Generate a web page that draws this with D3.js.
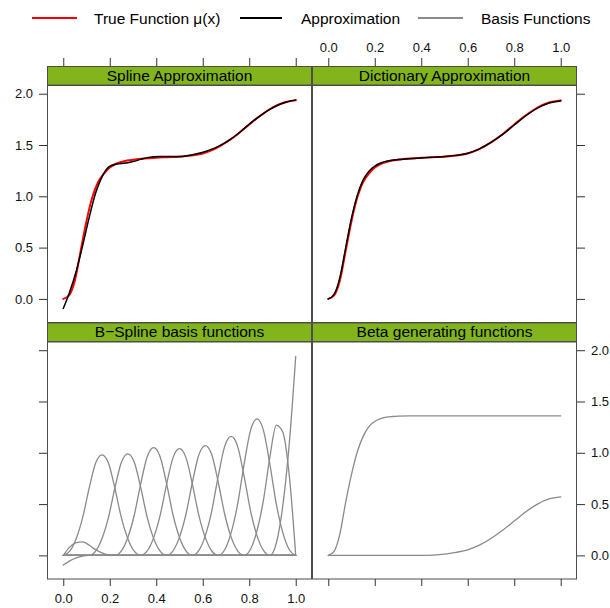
<!DOCTYPE html>
<html><head><meta charset="utf-8">
<script src="https://cdn.jsdelivr.net/npm/d3@7"></script>
<style>body{margin:0;background:#fff}</style>
</head><body>
<svg id="c" width="610" height="608"></svg>
<script>
// ---------- data ----------
const fnX = [0,0.025,0.05,0.075,0.1,0.125,0.15,0.175,0.2,0.225,0.25,0.275,0.3,0.35,0.4,0.45,0.5,0.55,0.6,0.65,0.7,0.75,0.8,0.85,0.9,0.95,1.0];
const trueFn = [0,0.035,0.18,0.47,0.76,0.99,1.14,1.22,1.28,1.315,1.335,1.348,1.356,1.368,1.376,1.381,1.386,1.397,1.418,1.46,1.525,1.605,1.70,1.79,1.865,1.915,1.935];
const dictApprox = [0,0.045,0.21,0.50,0.79,1.01,1.16,1.245,1.295,1.325,1.342,1.352,1.358,1.367,1.374,1.38,1.387,1.399,1.42,1.462,1.525,1.603,1.695,1.785,1.86,1.91,1.93];
const betaA = [0,0.04,0.21,0.52,0.79,1.01,1.16,1.255,1.305,1.333,1.347,1.354,1.358,1.36,1.36,1.36,1.36,1.36,1.36,1.36,1.36,1.36,1.36,1.36,1.36,1.36,1.36];
const betaB = [0,0,0,0,0,0,0,0,0,0,0,0,0,0,0,0.003,0.012,0.03,0.055,0.10,0.165,0.245,0.335,0.425,0.50,0.55,0.57];

// spline grid: 37 sample points on [0,1]
const splineX = d3.range(37).map(k => k / 36);
const splineApprox = [-0.094,0.069,0.27,0.52,0.79,1.03,1.19,1.285,1.31,1.319,1.328,1.342,1.36,1.377,1.385,1.388,1.388,1.387,1.388,1.394,1.405,1.419,1.437,1.4595,1.487,1.520,1.560,1.607,1.66,1.714,1.763,1.807,1.8465,1.880,1.9066,1.927,1.94];

const bs0  = [-0.094,-0.053,-0.024,-0.006,0,0,0,0,0,0,0,0,0,0,0,0,0,0,0,0,0,0,0,0,0,0,0,0,0,0,0,0,0,0,0,0,0];
const bs1  = [0,0.081,0.125,0.131,0.1,0.056,0.025,0.006,0,0,0,0,0,0,0,0,0,0,0,0,0,0,0,0,0,0,0,0,0,0,0,0,0,0,0,0,0];
const bs2  = [0,0.041,0.163,0.368,0.653,0.898,0.98,0.898,0.653,0.368,0.163,0.041,0,0,0,0,0,0,0,0,0,0,0,0,0,0,0,0,0,0,0,0,0,0,0,0,0];
const bs3  = [0,0,0,0,0,0.041,0.165,0.371,0.66,0.907,0.99,0.907,0.66,0.371,0.165,0.041,0,0,0,0,0,0,0,0,0,0,0,0,0,0,0,0,0,0,0,0,0];
const bs4  = [0,0,0,0,0,0,0,0,0,0.044,0.175,0.394,0.70,0.962,1.05,0.962,0.70,0.394,0.175,0.044,0,0,0,0,0,0,0,0,0,0,0,0,0,0,0,0,0];
const bs5  = [0,0,0,0,0,0,0,0,0,0,0,0,0,0.043,0.173,0.39,0.693,0.953,1.04,0.953,0.693,0.39,0.173,0.043,0,0,0,0,0,0,0,0,0,0,0,0,0];
const bs6  = [0,0,0,0,0,0,0,0,0,0,0,0,0,0,0,0,0,0.045,0.178,0.401,0.713,0.981,1.07,0.981,0.713,0.401,0.178,0.045,0,0,0,0,0,0,0,0,0];
const bs7  = [0,0,0,0,0,0,0,0,0,0,0,0,0,0,0,0,0,0,0,0,0,0.048,0.193,0.435,0.773,1.063,1.16,1.063,0.773,0.435,0.193,0.048,0,0,0,0,0];
const bs8  = [0,0,0,0,0,0,0,0,0,0,0,0,0,0,0,0,0,0,0,0,0,0,0,0,0,0.055,0.222,0.499,0.887,1.219,1.33,1.219,0.887,0.499,0.222,0.055,0];
const bs9  = [0,0,0,0,0,0,0,0,0,0,0,0,0,0,0,0,0,0,0,0,0,0,0,0,0,0,0,0,0,0.06,0.24,0.538,0.96,1.27,1.2,0.78,0];
const bs10 = [0,0,0,0,0,0,0,0,0,0,0,0,0,0,0,0,0,0,0,0,0,0,0,0,0,0,0,0,0,0,0,0,0,0.121,0.485,1.09,1.94];
const bsplineBasis = [bs0,bs1,bs2,bs3,bs4,bs5,bs6,bs7,bs8,bs9,bs10];

const xTicks = [0,0.2,0.4,0.6,0.8,1.0];
const yTicks = [0,0.5,1.0,1.5,2.0];
const panelTitles = ["Spline Approximation","Dictionary Approximation","B\u2212Spline basis functions","Beta generating functions"];
const legendLabels = ["True Function \u03bc(x)","Approximation","Basis Functions"];

// ---------- layout ----------
const FONT = "'Liberation Sans', Arial, Helvetica, sans-serif";
const RED = "#ff0000", BLACK = "#000000", GRAY = "#8a8a8a", STRIP = "#82b41c", BORDER = "#4d4d4d";
const svg = d3.select("#c").style("font-family", FONT);

const xL = d3.scaleLinear().domain([-0.07,1.07]).range([47,312]);
const xR = d3.scaleLinear().domain([-0.07,1.07]).range([312,577]);
const yT = d3.scaleLinear().domain([-0.23,2.08]).range([322.5,85.5]);
const yB = d3.scaleLinear().domain([-0.23,2.08]).range([579,342]);

const panels = [
  {x:xL, y:yT, strip:[66,85.5], title:panelTitles[0]},
  {x:xR, y:yT, strip:[66,85.5], title:panelTitles[1]},
  {x:xL, y:yB, strip:[322.5,342], title:panelTitles[2]},
  {x:xR, y:yB, strip:[322.5,342], title:panelTitles[3]}
];

const defs = svg.append("defs");
panels.forEach((p,i) => {
  const [x0,x1] = p.x.range(), [y1,y0] = p.y.range();
  defs.append("clipPath").attr("id","clip"+i).append("rect")
    .attr("x",x0).attr("y",y0).attr("width",x1-x0).attr("height",y1-y0);
  p.g = svg.append("g").attr("clip-path",`url(#clip${i})`);
});

const lineOf = (p, xs, ys) => d3.line().curve(d3.curveMonotoneX)
  .x((d,i) => p.x(xs[i])).y(d => p.y(d))(ys);

function drawLine(p, xs, ys, color, w){
  p.g.append("path").attr("d", lineOf(p, xs, ys)).attr("fill","none")
    .attr("stroke",color).attr("stroke-width",w).attr("stroke-linejoin","round").attr("stroke-linecap","round");
}

// panel 1: spline approximation
drawLine(panels[0], fnX, trueFn, RED, 2);
drawLine(panels[0], splineX, splineApprox, BLACK, 1.5);
// panel 2: dictionary approximation
drawLine(panels[1], fnX, trueFn, RED, 2);
drawLine(panels[1], fnX, dictApprox, BLACK, 1.5);
// panel 3: B-spline basis
bsplineBasis.forEach(b => drawLine(panels[2], splineX, b, GRAY, 1.3));
// panel 4: beta generating functions
drawLine(panels[3], fnX, betaA, GRAY, 1.3);
drawLine(panels[3], fnX, betaB, GRAY, 1.3);

// borders and strips
panels.forEach((p,i) => {
  const [x0,x1] = p.x.range(), [y1,y0] = p.y.range();
  const bx = x0 + 0.5, bw = x1 - x0 - 1;
  svg.append("rect").attr("x",bx).attr("y",y0).attr("width",bw).attr("height",y1-y0)
    .attr("fill","none").attr("stroke",BORDER).attr("stroke-width",1);
  svg.append("rect").attr("x",bx).attr("y",p.strip[0]+0.5).attr("width",bw)
    .attr("height",p.strip[1]-p.strip[0]-1).attr("fill",STRIP).attr("stroke",BORDER).attr("stroke-width",1);
  svg.append("text").attr("x",(x0+x1)/2).attr("y",p.strip[1]-5)
    .attr("text-anchor","middle").attr("font-size","15.5px").attr("fill","#000").text(p.title);
});

// axes
const fmt = d3.format(".1f");
function styleAxis(g){
  g.select(".domain").remove();
  g.selectAll(".tick line").attr("stroke","#333");
  g.selectAll(".tick text").attr("fill","#111").attr("font-size","13px").attr("font-family",FONT);
}
svg.append("g").attr("transform","translate(47,0)")
  .call(d3.axisLeft(yT).tickValues(yTicks).tickFormat(fmt).tickSize(8).tickPadding(6)).call(styleAxis);
svg.append("g").attr("transform","translate(47,0)")
  .call(d3.axisLeft(yB).tickValues(yTicks).tickFormat("").tickSize(8)).call(styleAxis);
svg.append("g").attr("transform","translate(577,0)")
  .call(d3.axisRight(yT).tickValues(yTicks).tickFormat("").tickSize(8)).call(styleAxis);
svg.append("g").attr("transform","translate(577,0)")
  .call(d3.axisRight(yB).tickValues(yTicks).tickFormat(fmt).tickSize(8).tickPadding(6)).call(styleAxis);
svg.append("g").attr("transform","translate(0,66)")
  .call(d3.axisTop(xL).tickValues(xTicks).tickFormat("").tickSize(8)).call(styleAxis);
svg.append("g").attr("transform","translate(0,66)")
  .call(d3.axisTop(xR).tickValues(xTicks).tickFormat(fmt).tickSize(8).tickPadding(6)).call(styleAxis);
svg.append("g").attr("transform","translate(0,579)")
  .call(d3.axisBottom(xL).tickValues(xTicks).tickFormat(fmt).tickSize(7).tickPadding(8)).call(styleAxis);
svg.append("g").attr("transform","translate(0,579)")
  .call(d3.axisBottom(xR).tickValues(xTicks).tickFormat("").tickSize(7)).call(styleAxis);

// legend
const legend = [
  {x1:32, x2:77, tx:94, color:RED},
  {x1:240, x2:282, tx:301, color:BLACK},
  {x1:418, x2:463, tx:481, color:GRAY}
];
legend.forEach((l,i) => {
  svg.append("line").attr("x1",l.x1).attr("x2",l.x2).attr("y1",18).attr("y2",18)
    .attr("stroke",l.color).attr("stroke-width",2);
  svg.append("text").attr("x",l.tx).attr("y",23.5).attr("font-size","15.5px").attr("fill","#000").text(legendLabels[i]);
});
</script>
</body></html>
